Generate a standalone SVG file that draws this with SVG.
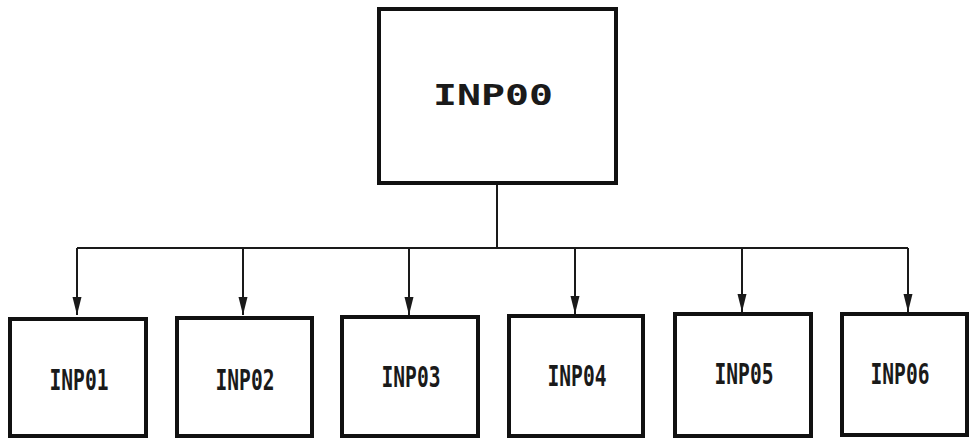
<svg xmlns="http://www.w3.org/2000/svg" width="971" height="441" viewBox="0 0 971 441">
<style>
.box{fill:#fff;stroke:#111;stroke-width:4}
.lbl{font-family:"DejaVu Sans Mono","Liberation Mono",monospace;font-weight:bold;fill:#1a1a1a;text-anchor:middle}
.small{font-size:28px}
.big{font-size:29px}
.con{fill:none;stroke:#1a1a1a;stroke-width:2}
</style>
<defs>
<marker id="arr" viewBox="0 0 10 18" refX="10" refY="9" markerWidth="10" markerHeight="18" markerUnits="userSpaceOnUse" orient="auto">
<path d="M0,13 L18,9 L0,5 Z" fill="#1a1a1a" transform="translate(0,0)"/>
</marker>
<marker id="ah" viewBox="0 0 18 10" refX="18" refY="5" markerWidth="18" markerHeight="10" markerUnits="userSpaceOnUse" orient="auto">
<path d="M0,0.5 L18,5 L0,9.5 Z" fill="#1a1a1a"/>
</marker>
</defs>
<g id="connectors">
<path class="con" d="M497,185 V248"/>
<path class="con" d="M77,248 H908"/>
<path class="con" d="M77,248 V315" marker-end="url(#ah)"/>
<path class="con" d="M243,248 V315" marker-end="url(#ah)"/>
<path class="con" d="M409,248 V315" marker-end="url(#ah)"/>
<path class="con" d="M575,248 V314" marker-end="url(#ah)"/>
<path class="con" d="M742,248 V312" marker-end="url(#ah)"/>
<path class="con" d="M908,248 V312" marker-end="url(#ah)"/>
</g>
<g id="INP00">
<rect class="box" x="379" y="9" width="237" height="174"/>
<text class="lbl big" x="493" y="105" textLength="120" lengthAdjust="spacingAndGlyphs">INP00</text>
</g>
<g id="INP01">
<rect class="box" x="10" y="319" width="136" height="117"/>
<text class="lbl small" x="79" y="390" textLength="59" lengthAdjust="spacingAndGlyphs">INP01</text>
</g>
<g id="INP02">
<rect class="box" x="177" y="318" width="135" height="118"/>
<text class="lbl small" x="245" y="390" textLength="59" lengthAdjust="spacingAndGlyphs">INP02</text>
</g>
<g id="INP03">
<rect class="box" x="342" y="317" width="136" height="119"/>
<text class="lbl small" x="411" y="387" textLength="59" lengthAdjust="spacingAndGlyphs">INP03</text>
</g>
<g id="INP04">
<rect class="box" x="509" y="316" width="134" height="120"/>
<text class="lbl small" x="577" y="386" textLength="59" lengthAdjust="spacingAndGlyphs">INP04</text>
</g>
<g id="INP05">
<rect class="box" x="675" y="314" width="136" height="122"/>
<text class="lbl small" x="744" y="384" textLength="59" lengthAdjust="spacingAndGlyphs">INP05</text>
</g>
<g id="INP06">
<rect class="box" x="842" y="314" width="125" height="121"/>
<text class="lbl small" x="900" y="384" textLength="59" lengthAdjust="spacingAndGlyphs">INP06</text>
</g>
</svg>
